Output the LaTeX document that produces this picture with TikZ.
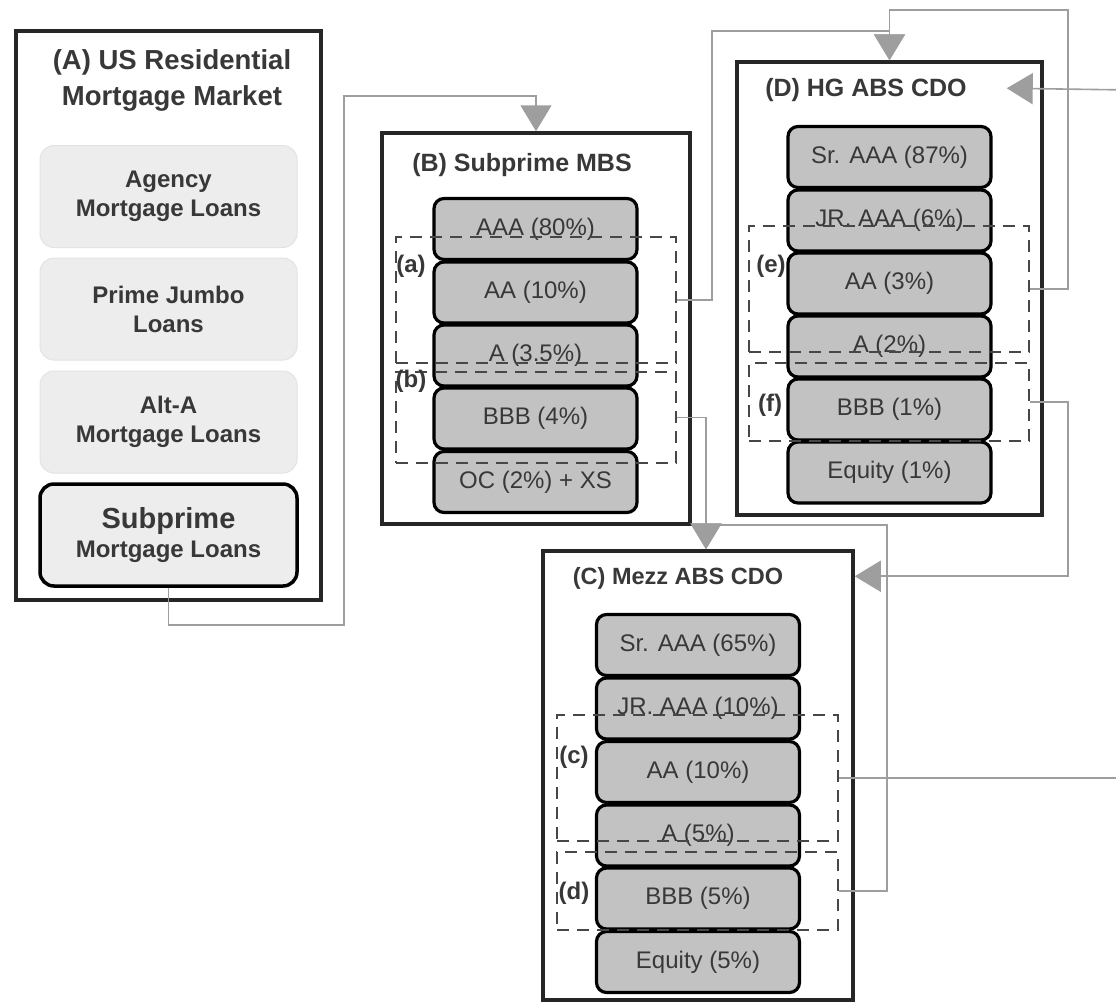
\documentclass[tikz,border=0pt]{standalone}
\usepackage{fontspec}
\setmainfont{Liberation Sans}
\usetikzlibrary{arrows.meta}

\definecolor{linkgray}{gray}{0.62}
\definecolor{textgray}{gray}{0.22}

\tikzset{
  panel/.style={draw=black!85, line width=3.5pt, fill=white, inner sep=0pt},
  paneltitle/.style={text=textgray, align=center, font=\bfseries\fontsize{25}{35}\selectfont},
  loan/.style={draw=gray!22, line width=1pt, rounded corners=14pt, fill=gray!14,
    minimum width=257pt, minimum height=102pt, inner sep=0pt, align=center,
    text=textgray, font=\bfseries\fontsize{24}{29}\selectfont},
  tranche/.style={draw=black, line width=3.2pt, rounded corners=10pt, fill=gray!48,
    minimum width=203pt, minimum height=61pt, inner sep=0pt,
    text=textgray, font=\fontsize{24}{26}\selectfont},
  group/.style={draw=black!72, line width=2.2pt, dash pattern=on 12pt off 8pt, inner sep=0pt},
  grplabel/.style={text=textgray, font=\bfseries\fontsize{24}{26}\selectfont},
  link/.style={draw=linkgray, line width=1.6pt},
  inarrow/.style={-{Triangle[width=31pt,length=26pt,fill=linkgray,color=linkgray]}},
}

\begin{document}
\begin{tikzpicture}[%
      x=1pt, y=-1pt,
      ]
      \useasboundingbox (0,0) rectangle (1116,1004);

      % panels
      \node[panel, minimum width=305pt, minimum height=569pt] (A) at (168.5,315.5) {};
      \node[panel, minimum width=308pt, minimum height=391pt] (B) at (536,328.5) {};
      \node[panel, minimum width=305pt, minimum height=453pt] (D) at (889.5,288.5) {};
      \node[panel, minimum width=310pt, minimum height=449pt] (C) at (698,775.5) {};

      \node[paneltitle, font=\bfseries\fontsize{27.5}{36}\selectfont] (tA) at (172,80) {(A) US Residential\\Mortgage Market};
      \node[paneltitle] (tB) at (522,165) {(B) Subprime MBS};
      \node[paneltitle] (tD) at (866,90) {(D) HG ABS CDO};
      \node[paneltitle, font=\bfseries\fontsize{23.5}{26}\selectfont] (tC) at (678,578) {(C) Mezz ABS CDO};

      % (A) mortgage loans
      \node[loan] (agency) at (168.5,196.5) {Agency\\Mortgage Loans};
      \node[loan] (jumbo) at (168.5,309) {Prime Jumbo\\Loans};
      \node[loan] (alta) at (168.5,422) {Alt-A\\Mortgage Loans};
      \node[loan, draw=black, line width=3.5pt] (subprime) at (168.5,535)
        {{\fontsize{29}{33}\selectfont Subprime}\\Mortgage Loans};

      % (B) subprime MBS tranches
      \node[tranche] (B1) at (535.5,229) {AAA (80\%)};
      \node[tranche] (B2) at (535.5,292.5) {AA (10\%)};
      \node[tranche] (B3) at (535.5,355.5) {A (3.5\%)};
      \node[tranche] (B4) at (535.5,418.5) {BBB (4\%)};
      \node[tranche] (B5) at (535.5,482) {OC (2\%) + XS};

      % (D) HG ABS CDO tranches
      \node[tranche] (D1) at (889.5,157) {Sr. AAA (87\%)};
      \node[tranche] (D2) at (889.5,220.5) {JR. AAA (6\%)};
      \node[tranche] (D3) at (889.5,283.5) {AA (3\%)};
      \node[tranche] (D4) at (889.5,346.5) {A (2\%)};
      \node[tranche] (D5) at (889.5,409.5) {BBB (1\%)};
      \node[tranche] (D6) at (889.5,472.5) {Equity (1\%)};

      % (C) Mezz ABS CDO tranches
      \node[tranche] (C1) at (698,645) {Sr. AAA (65\%)};
      \node[tranche] (C2) at (698,708.5) {JR. AAA (10\%)};
      \node[tranche] (C3) at (698,772) {AA (10\%)};
      \node[tranche] (C4) at (698,835.5) {A (5\%)};
      \node[tranche] (C5) at (698,898.5) {BBB (5\%)};
      \node[tranche] (C6) at (698,962) {Equity (5\%)};

      % dashed groups
      \node[group, minimum width=280pt, minimum height=126pt] (ga) at (536,300) {};
      \node[group, minimum width=280pt, minimum height=91pt] (gb) at (536,417.5) {};
      \node[group, minimum width=280pt, minimum height=126pt] (ge) at (889,289) {};
      \node[group, minimum width=280pt, minimum height=78pt] (gf) at (889,402) {};
      \node[group, minimum width=281pt, minimum height=126pt] (gc) at (697.5,778) {};
      \node[group, minimum width=281pt, minimum height=78pt] (gd) at (697.5,891) {};

      \node[grplabel] (la) at (411,266) {(a)};
      \node[grplabel] (lb) at (411,381) {(b)};
      \node[grplabel] (le) at (771,266) {(e)};
      \node[grplabel] (lf) at (770,405) {(f)};
      \node[grplabel] (lc) at (574,757) {(c)};
      \node[grplabel] (ld) at (574,893) {(d)};

      % connectors
      \draw[link, inarrow] (subprime.south) -- ++(0,37) -| (344,96) -| (B.north);
      \draw[link, inarrow] (ga.east) -- (712,300) -- (712,31) -| (D.north);
      \draw[link, inarrow] (ge.east) -- (1068,289) -- (1068,10) -| (D.north);
      \draw[link, inarrow] (gb.east) -| ([xshift=8pt]C.north);
      \draw[link, inarrow] (gd.east) -| (887,525) -| ([xshift=8pt]C.north);
      \draw[link, inarrow] (gf.east) -- (1068,402) |- ([yshift=-27pt]C.north east);
      \draw[link, inarrow] (gc.east) -- (1130,778) -- (1130,90) -- ([xshift=-37pt,yshift=-28pt]D.north east);
      \end{tikzpicture}
\end{document}
